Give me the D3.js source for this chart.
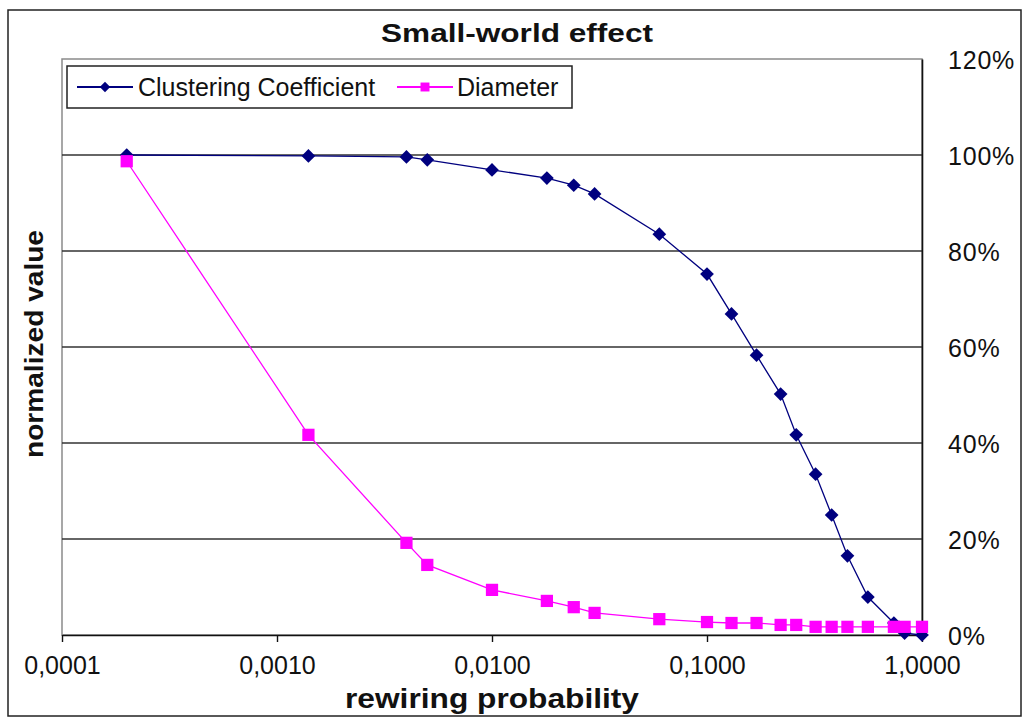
<!DOCTYPE html>
<html>
<head>
<meta charset="utf-8">
<script src="https://cdn.jsdelivr.net/npm/d3@7"></script>
<style>
  html, body { margin: 0; padding: 0; background: #fff; }
  svg { display: block; }
  text { font-family: "Liberation Sans", Arial, sans-serif; fill: #111; }
</style>
</head>
<body>
<svg id="chart" width="1023" height="719"></svg>
<script>
// Rewiring probabilities (shared by both series)
const rewiringProbability = [0.0002, 0.0014, 0.004, 0.005, 0.01, 0.018, 0.024, 0.03, 0.06, 0.1,
  0.13, 0.17, 0.22, 0.26, 0.32, 0.38, 0.45, 0.56, 0.74, 0.83, 1.0];
// Normalized clustering coefficient C(p)/C(0)
const clusteringCoefficient = [1.0, 0.998, 0.996, 0.99, 0.969, 0.952, 0.937, 0.919, 0.835, 0.752,
  0.669, 0.583, 0.502, 0.417, 0.335, 0.25, 0.165, 0.079, 0.025, 0.004, 0.0];
// Normalized diameter L(p)/L(0)
const diameter = [0.987, 0.417, 0.192, 0.146, 0.094, 0.071, 0.058, 0.046, 0.033, 0.027,
  0.025, 0.025, 0.021, 0.021, 0.017, 0.017, 0.017, 0.017, 0.017, 0.017, 0.017];
const xTickValues = [0.0001, 0.001, 0.01, 0.1, 1];
const xTickLabels = ["0,0001", "0,0010", "0,0100", "0,1000", "1,0000"];
const yTickValues = [0, 0.2, 0.4, 0.6, 0.8, 1.0, 1.2];
const yTickLabels = ["0%", "20%", "40%", "60%", "80%", "100%", "120%"];
const seriesNames = ["Clustering Coefficient", "Diameter"];

const svg = d3.select("#chart");
const plot = { left: 62, right: 922, top: 59, bottom: 635 };

const x = d3.scaleLog().domain([0.0001, 1]).range([plot.left, plot.right]);
const y = d3.scaleLinear().domain([0, 1.2]).range([plot.bottom, plot.top]);

// outer chart frame
svg.append("rect")
  .attr("x", 8).attr("y", 10).attr("width", 1013).attr("height", 706)
  .attr("fill", "#fff").attr("stroke", "#222").attr("stroke-width", 1.5);

// plot area frame
svg.append("rect")
  .attr("x", plot.left).attr("y", plot.top)
  .attr("width", plot.right - plot.left).attr("height", plot.bottom - plot.top)
  .attr("fill", "#fff").attr("stroke", "#8a8a8a").attr("stroke-width", 1.5);

// horizontal gridlines
svg.append("g")
  .selectAll("line")
  .data(yTickValues.filter(v => v > 0 && v < 1.2))
  .join("line")
  .attr("x1", plot.left).attr("x2", plot.right)
  .attr("y1", d => y(d)).attr("y2", d => y(d))
  .attr("stroke", "#333").attr("stroke-width", 1.6);

// right value axis
const yAxis = svg.append("g")
  .attr("transform", `translate(${plot.right},0)`)
  .call(d3.axisRight(y).tickValues(yTickValues)
    .tickFormat((d, i) => yTickLabels[i]).tickSize(0).tickPadding(26));
yAxis.select(".domain").attr("stroke", "#111").attr("stroke-width", 1.6);
yAxis.selectAll("text")
  .attr("font-size", 25).attr("font-family", "Liberation Sans, Arial, sans-serif")
  .attr("fill", "#111").attr("dy", "0.36em").attr("letter-spacing", 0.8);

// bottom category axis (log scale)
const xAxis = svg.append("g")
  .attr("transform", `translate(0,${plot.bottom})`)
  .call(d3.axisBottom(x).tickValues(xTickValues)
    .tickFormat((d, i) => xTickLabels[i]).tickSize(7).tickPadding(14).tickSizeOuter(0));
xAxis.select(".domain").attr("stroke", "#111").attr("stroke-width", 1.6);
xAxis.selectAll(".tick line").attr("stroke", "#111").attr("stroke-width", 1.4);
xAxis.selectAll("text")
  .attr("font-size", 25).attr("font-family", "Liberation Sans, Arial, sans-serif")
  .attr("fill", "#111");

// series: clustering first, diameter drawn on top
const navy = "#00007f";
const magenta = "#ff00ff";
const ccData = rewiringProbability.map((p, i) => [p, clusteringCoefficient[i]]);
const dmData = rewiringProbability.map((p, i) => [p, diameter[i]]);
const line = d3.line().x(d => x(d[0])).y(d => y(d[1]));

const diamond = d3.symbol().type(d3.symbolDiamond2).size(120);
const square = d3.symbol().type(d3.symbolSquare).size(150);

svg.append("path").datum(ccData).attr("d", line)
  .attr("fill", "none").attr("stroke", navy).attr("stroke-width", 1.3);
svg.append("g").selectAll("path").data(ccData).join("path")
  .attr("d", diamond)
  .attr("transform", d => `translate(${x(d[0])},${y(d[1])})`)
  .attr("fill", navy);

svg.append("path").datum(dmData).attr("d", line)
  .attr("fill", "none").attr("stroke", magenta).attr("stroke-width", 1.3);
svg.append("g").selectAll("path").data(dmData).join("path")
  .attr("d", square)
  .attr("transform", d => `translate(${x(d[0])},${y(d[1])})`)
  .attr("fill", magenta);

// legend
const legend = svg.append("g");
legend.append("rect")
  .attr("x", 67).attr("y", 66).attr("width", 505).attr("height", 42)
  .attr("fill", "#fff").attr("stroke", "#222").attr("stroke-width", 1.5);
const legendItems = [
  { name: seriesNames[0], color: navy, sym: d3.symbol().type(d3.symbolDiamond2).size(70), x0: 77, x1: 133, tx: 138 },
  { name: seriesNames[1], color: magenta, sym: d3.symbol().type(d3.symbolSquare).size(80), x0: 397, x1: 453, tx: 457 }
];
legendItems.forEach(it => {
  legend.append("line").attr("x1", it.x0).attr("x2", it.x1).attr("y1", 87).attr("y2", 87)
    .attr("stroke", it.color).attr("stroke-width", 2);
  legend.append("path").attr("d", it.sym)
    .attr("transform", `translate(${(it.x0 + it.x1) / 2},87)`).attr("fill", it.color);
  legend.append("text").attr("x", it.tx).attr("y", 96)
    .attr("font-size", 25).text(it.name);
});

// titles
svg.append("text")
  .attr("x", 517).attr("y", 42).attr("text-anchor", "middle")
  .attr("font-size", 25).attr("font-weight", "bold")
  .attr("textLength", 272).attr("lengthAdjust", "spacingAndGlyphs")
  .text("Small-world effect");

svg.append("text")
  .attr("x", 492).attr("y", 708).attr("text-anchor", "middle")
  .attr("font-size", 27).attr("font-weight", "bold")
  .attr("textLength", 294).attr("lengthAdjust", "spacingAndGlyphs")
  .text("rewiring probability");

svg.append("text")
  .attr("transform", "translate(43,344) rotate(-90)")
  .attr("text-anchor", "middle")
  .attr("font-size", 25).attr("font-weight", "bold")
  .attr("textLength", 228).attr("lengthAdjust", "spacingAndGlyphs")
  .text("normalized value");
</script>
</body>
</html>
